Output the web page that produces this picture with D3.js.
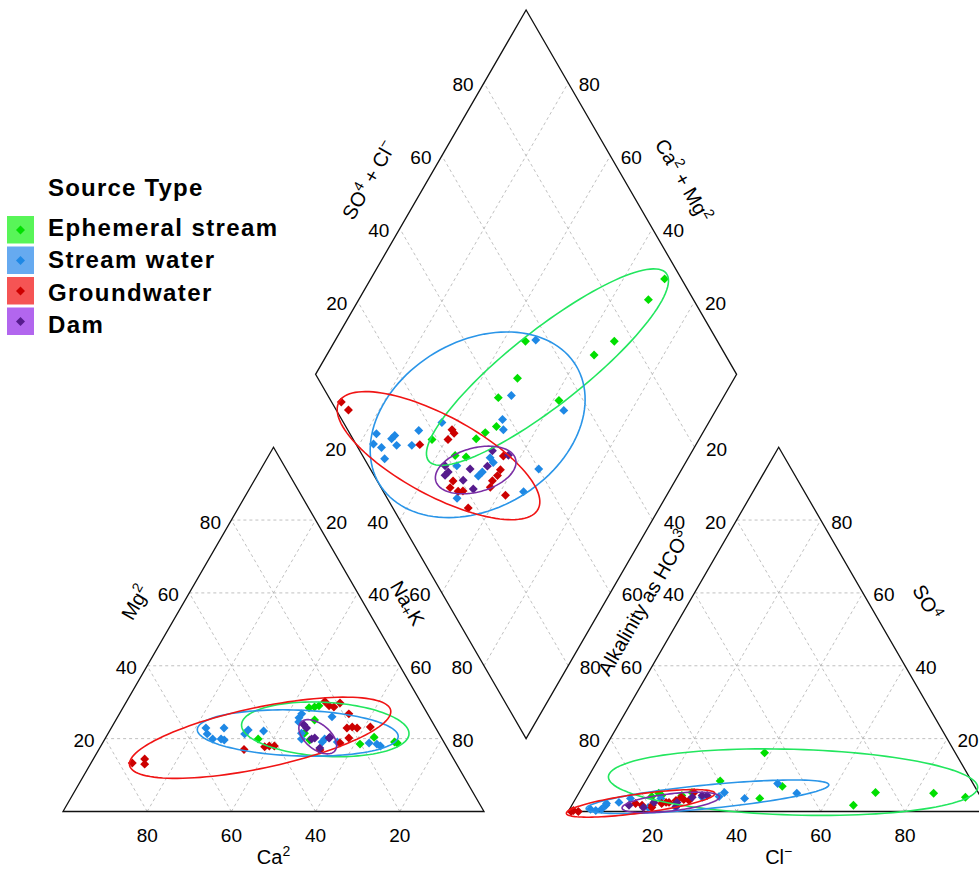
<!DOCTYPE html>
<html>
<head>
<meta charset="utf-8">
<script src="https://cdn.jsdelivr.net/npm/d3@7"></script>
<style>
  body { margin: 0; background: #fff; }
  svg { display: block; font-family: "Liberation Sans", Arial, sans-serif; }
</style>
</head>
<body>
<svg id="chart"></svg>
<script>
// ---- data (percent of meq) ----
const sourceTypes = ["Ephemeral stream", "Stream water", "Groundwater", "Dam"];
const tickValues = [20, 40, 60, 80];

// cation triangle: [Ca, Mg]
const cationEphemeral = [[43.7,19.9],[27.3,28.5],[25.9,28.7],[24.7,29.0],[27.7,25.1],[31.9,21.5],[31.6,19.6],[20.2,18.5],[15.9,20.4],[11.7,19.1],[11.2,18.8]];
const cationStream = [[54.6,22.9],[55.1,21.3],[54.5,19.9],[50.3,22.9],[51.9,19.6],[52.5,19.9],[44.8,22.4],[46.2,21.3],[41.3,22.1],[31.1,25.7],[29.9,26.8],[31.7,24.6],[32.6,21.5],[33.4,19.9],[27.9,19.9],[28.9,19.1],[23.1,26.0],[25.3,19.1],[17.9,18.8],[16.2,18.5],[15.6,18.0]];
const cationGround = [[76.9,13.3],[73.4,14.4],[74.1,13.0],[48.5,17.0],[43.2,17.8],[42.0,18.0],[40.8,18.0],[22.7,30.2],[22.3,29.0],[21.3,28.7],[19.3,29.8],[18.7,26.8],[21.1,22.9],[19.7,23.2],[18.7,22.9],[22.0,20.2],[15.4,23.2],[24.8,18.8],[30.5,16.9]];
const cationDam = [[30.9,23.8],[30.7,22.9],[30.1,20.2],[26.7,20.2],[26.4,20.4],[30.3,17.4],[31.0,19.9]];

// anion triangle: [Cl, SO4]
const anionEphemeral = [[38.6,16.1],[31.9,8.4],[47.4,6.9],[43.7,3.6],[66.9,1.7],[70.4,5.2],[84.3,5.0],[92.4,3.9],[26.8,5.2],[24.8,4.4],[20.0,4.4],[17.8,4.1],[19.0,5.0]];
const anionStream = [[45.9,7.7],[51.8,5.0],[40.1,3.6],[34.5,5.2],[33.8,4.1],[29.9,3.9],[25.0,1.1],[18.5,1.1],[10.8,2.5],[13.0,3.6],[8.1,1.7],[8.0,2.2],[7.6,0.6],[5.0,0.6],[6.4,0.3],[20.2,3.6]];
const anionGround = [[1.1,0.3],[2.4,0.0],[0.7,0.0],[14.9,2.2],[16.7,1.7],[19.1,1.7],[21.1,2.2],[22.7,2.5],[24.1,3.0],[25.8,3.3],[27.2,3.0],[24.9,3.9],[27.3,5.2],[19.3,1.1],[22.0,2.5]];
const anionDam = [[13.6,1.7],[19.1,2.5],[27.5,3.9],[29.6,4.4],[24.9,1.4],[17.3,1.1],[30.8,4.4],[24.6,2.5]];

// diamond: [Ca + Mg, SO4 + Cl]
const diamondEphemeral = [[30.2,96.0],[31.2,89.3],[33.6,75.5],[36.5,68.8],[54.7,54.4],[51.5,47.4],[53.4,40.2],[38.6,54.2],[49.9,35.8],[51.7,32.3],[53.0,29.3],[63.4,18.7],[55.7,22.0],[52.9,24.4]];
const diamondStream = [[52.4,57.0],[50.6,43.6],[36.1,54.0],[49.4,38.2],[47.8,37.0],[63.4,23.4],[77.4,6.3],[76.7,4.2],[74.3,5.6],[73.1,9.2],[72.8,10.4],[71.0,9.5],[72.0,4.8],[67.4,13.1],[67.8,16.8],[53.9,21.0],[47.0,26.2],[47.1,30.0],[45.7,30.1],[34.0,40.0],[34.5,33.3],[49.4,16.6],[47.4,24.7]];
const diamondGround = [[90.1,2.3],[87.3,2.9],[60.0,24.8],[59.0,24.8],[59.6,22.5],[65.6,15.1],[44.2,33.4],[43.0,30.8],[42.9,29.3],[43.4,27.4],[52.7,18.0],[52.5,16.4],[50.1,17.8],[49.0,19.0],[43.0,26.0],[38.3,28.5],[45.4,17.9]];
const diamondDam = [[47.5,31.5],[43.1,34.7],[55.1,18.1],[55.4,16.9],[50.3,23.7],[46.6,28.2],[50.4,20.5],[46.8,21.7],[56.7,18.2]];

const cationData = [cationEphemeral, cationStream, cationGround, cationDam];
const anionData = [anionEphemeral, anionStream, anionGround, anionDam];
const diamondData = [diamondEphemeral, diamondStream, diamondGround, diamondDam];

// colours
const pointColor = d3.scaleOrdinal(sourceTypes, ["#00df00", "#1e88e5", "#cc0000", "#561b8d"]);
const ellipseColor = d3.scaleOrdinal(sourceTypes, ["#22e65e", "#2a95e8", "#f01414", "#7a2ea6"]);
const keyColor = d3.scaleOrdinal(sourceTypes, ["#58f558", "#66aaf0", "#f55454", "#b266ee"]);

const width = 979, height = 870;
const svg = d3.select("#chart").attr("width", width).attr("height", height);

// piper coordinate space: cation triangle 0..100, anion 120..220
const x = d3.scaleLinear().domain([0, 220]).range([63, 989.2]);
const y = d3.scaleLinear().domain([0, 190.53]).range([811.5, 10]);
const H = 0.86603;

const cationXY = (ca, mg) => [100 * (1 - ca / 100 - mg / 200), mg * H];
const anionXY = (cl, so4) => [120 + cl + so4 / 2, so4 * H];
const diamondXY = (cm, sc) => [110 + 0.5 * (sc - cm), 17.3206 + H * (cm + sc)];
const px = p => [x(p[0]), y(p[1])];

// grid lines
const grid = [];
tickValues.forEach(v => {
  grid.push([cationXY(100 - v, v), cationXY(0, v)]);
  grid.push([cationXY(v, 0), cationXY(v, 100 - v)]);
  grid.push([cationXY(100 - v, 0), cationXY(0, 100 - v)]);
  grid.push([anionXY(0, v), anionXY(100 - v, v)]);
  grid.push([anionXY(v, 0), anionXY(v, 100 - v)]);
  grid.push([anionXY(100 - v, 0), anionXY(0, 100 - v)]);
  grid.push([diamondXY(v, 0), diamondXY(v, 100)]);
  grid.push([diamondXY(0, v), diamondXY(100, v)]);
});
svg.append("g").selectAll("line").data(grid).join("line")
  .attr("x1", d => x(d[0][0])).attr("y1", d => y(d[0][1]))
  .attr("x2", d => x(d[1][0])).attr("y2", d => y(d[1][1]))
  .attr("stroke", "#b0b0b0").attr("stroke-width", 0.8).attr("stroke-dasharray", "3,3");

// outlines
const outlines = [
  [cationXY(100, 0), cationXY(0, 0), cationXY(0, 100)],
  [anionXY(0, 0), anionXY(100, 0), anionXY(0, 100)],
  [diamondXY(0, 0), diamondXY(0, 100), diamondXY(100, 100), diamondXY(100, 0)]
];
svg.append("g").selectAll("path").data(outlines).join("path")
  .attr("d", d => d3.line().x(p => x(p[0])).y(p => y(p[1]))(d) + "Z")
  .attr("fill", "none").attr("stroke", "#111").attr("stroke-width", 1.3);

// tick labels
const sideTicks = [
  { pos: v => cationXY(100 - v, v), dx: -21 },   // Mg
  { pos: v => cationXY(0, 100 - v), dx: 21 },    // Na + K
  { pos: v => anionXY(0, 100 - v), dx: -21 },    // HCO3
  { pos: v => anionXY(100 - v, v), dx: 21 },     // SO4
  { pos: v => diamondXY(100, v), dx: -21 },      // SO4 + Cl
  { pos: v => diamondXY(v, 100), dx: 21 },       // Ca + Mg
  { pos: v => diamondXY(100 - v, 0), dx: -22 },  // Na + K
  { pos: v => diamondXY(0, 100 - v), dx: 22 }    // HCO3
];
const bottomTicks = [
  { pos: v => cationXY(v, 0) },  // Ca
  { pos: v => anionXY(v, 0) }    // Cl
];
const tickG = svg.append("g").attr("font-size", 19).attr("fill", "#000").attr("text-anchor", "middle");
sideTicks.forEach(t => {
  tickG.append("g").selectAll("text").data(tickValues).join("text")
    .attr("x", v => x(t.pos(v)[0]) + t.dx)
    .attr("y", v => y(t.pos(v)[1]))
    .attr("dy", "0.45em")
    .text(v => v);
});
bottomTicks.forEach(t => {
  tickG.append("g").selectAll("text").data(tickValues).join("text")
    .attr("x", v => x(t.pos(v)[0]))
    .attr("y", v => y(t.pos(v)[1]) + 30)
    .text(v => v);
});

// axis titles
function richText(sel, parts) {
  parts.forEach(p => {
    const ts = sel.append("tspan").text(p[0]);
    if (p[1] === "sup") ts.attr("baseline-shift", "super").attr("font-size", 14);
    if (p[1] === "sub") ts.attr("baseline-shift", "-3").attr("font-size", 15);
  });
}
const titles = [
  { from: cationXY(100, 0), to: cationXY(0, 100), frac: 0.516, off: 42, rot: -60, parts: [["Mg"], ["2", "sup"]] },
  { from: cationXY(0, 0), to: cationXY(0, 100), frac: 0.52, off: 38, rot: 60, parts: [["Na"], ["+", "sub"], ["K"]] },
  { from: anionXY(0, 0), to: anionXY(0, 100), frac: 0.519, off: 39, rot: -60, parts: [["Alkalinity as HCO"], ["3", "sup"]] },
  { from: anionXY(100, 0), to: anionXY(0, 100), frac: 0.505, off: 51, rot: 60, parts: [["SO"], ["4", "sup"]] },
  { from: diamondXY(100, 0), to: diamondXY(100, 100), frac: 0.463, off: 51, rot: -60, parts: [["SO"], ["4", "sup"], [" + Cl"], ["\u2212", "sup"]] },
  { from: diamondXY(0, 100), to: diamondXY(100, 100), frac: 0.463, off: 51, rot: 60, parts: [["Ca"], ["2", "sup"], [" + Mg"], ["2", "sup"]] }
];
const titleG = svg.append("g").attr("font-size", 20).attr("text-anchor", "middle");
titles.forEach(t => {
  const a = px(t.from), b = px(t.to);
  const r = t.rot * Math.PI / 180;
  const cx = a[0] + (b[0] - a[0]) * t.frac + t.off * Math.sin(r);
  const cy = a[1] + (b[1] - a[1]) * t.frac - t.off * Math.cos(r);
  const tx = titleG.append("text")
    .attr("transform", `translate(${cx},${cy}) rotate(${t.rot})`)
    .attr("dy", "0.35em");
  richText(tx, t.parts);
});
const caTitle = titleG.append("text").attr("x", x(50)).attr("y", y(0) + 52);
richText(caTitle, [["Ca"], ["2", "sup"]]);
const clTitle = titleG.append("text").attr("x", x(170)).attr("y", y(0) + 52);
richText(clTitle, [["Cl"], ["\u2212", "sup"]]);

// points
const marker = d3.symbol(d3.symbolSquare, 40);
const panels = [
  { data: cationData, f: d => cationXY(d[0], d[1]) },
  { data: anionData, f: d => anionXY(d[0], d[1]) },
  { data: diamondData, f: d => diamondXY(d[0], d[1]) }
];
const pointG = svg.append("g");
panels.forEach(panel => {
  panel.data.forEach((rows, i) => {
    pointG.append("g").selectAll("path").data(rows).join("path")
      .attr("d", marker)
      .attr("transform", d => { const p = px(panel.f(d)); return `translate(${p[0]},${p[1]}) rotate(45)`; })
      .attr("fill", pointColor(sourceTypes[i]));
  });
});

// minimum enclosing ellipse around each group (Khachiyan), slightly expanded
function inv3(m) {
  const [a, b, c, d, e, f, g, h, k] = m;
  const A = e * k - f * h, B = -(d * k - f * g), C = d * h - e * g;
  const det = a * A + b * B + c * C;
  return [A, -(b * k - c * h), b * f - c * e,
          B, a * k - c * g, -(a * f - c * d),
          C, -(a * h - b * g), a * e - b * d].map(v => v / det);
}
function enclosingEllipse(pts, expand) {
  const n = pts.length;
  let u = pts.map(() => 1 / n);
  for (let it = 0; it < 2000; it++) {
    const X = [0, 0, 0, 0, 0, 0, 0, 0, 0];
    pts.forEach((p, i) => {
      const q = [p[0], p[1], 1];
      for (let r = 0; r < 3; r++) for (let c = 0; c < 3; c++) X[r * 3 + c] += u[i] * q[r] * q[c];
    });
    const Xi = inv3(X);
    const M = pts.map(p => {
      const q = [p[0], p[1], 1];
      let s = 0;
      for (let r = 0; r < 3; r++) for (let c = 0; c < 3; c++) s += q[r] * Xi[r * 3 + c] * q[c];
      return s;
    });
    const j = d3.maxIndex(M);
    const step = (M[j] - 3) / (3 * (M[j] - 1));
    const nu = u.map(v => v * (1 - step));
    nu[j] += step;
    const err = Math.sqrt(d3.sum(nu, (v, i) => (v - u[i]) ** 2));
    u = nu;
    if (err < 0.01) break;
  }
  const c = [d3.sum(pts, (p, i) => u[i] * p[0]), d3.sum(pts, (p, i) => u[i] * p[1])];
  let sxx = 0, sxy = 0, syy = 0;
  pts.forEach((p, i) => {
    sxx += u[i] * (p[0] - c[0]) ** 2; sxy += u[i] * (p[0] - c[0]) * (p[1] - c[1]); syy += u[i] * (p[1] - c[1]) ** 2;
  });
  const tr = sxx + syy, det = sxx * syy - sxy * sxy;
  const disc = Math.sqrt(Math.max(tr * tr / 4 - det, 0));
  const l1 = tr / 2 + disc, l2 = Math.max(tr / 2 - disc, 0);
  const ang = 0.5 * Math.atan2(2 * sxy, sxx - syy);
  const a1 = Math.sqrt(2 * l1) + expand, a2 = Math.sqrt(2 * l2) + expand;
  return d3.range(0, 121).map(k => {
    const t = k / 120 * 2 * Math.PI;
    const ex = a1 * Math.cos(t), ey = a2 * Math.sin(t);
    return [c[0] + ex * Math.cos(ang) - ey * Math.sin(ang), c[1] + ex * Math.sin(ang) + ey * Math.cos(ang)];
  });
}
const ellipseG = svg.append("g");
panels.forEach(panel => {
  panel.data.forEach((rows, i) => {
    const pts = rows.map(d => px(panel.f(d)));
    ellipseG.append("path")
      .datum(enclosingEllipse(pts, 4))
      .attr("d", d3.line().curve(d3.curveLinearClosed))
      .attr("fill", "none")
      .attr("stroke", ellipseColor(sourceTypes[i]))
      .attr("stroke-width", 1.6);
  });
});

// legend
const legend = svg.append("g").attr("font-weight", "bold").attr("font-size", 24);
legend.append("text").attr("x", 48).attr("y", 196).attr("letter-spacing", 1.2).text("Source Type");
const items = legend.selectAll("g.item").data(sourceTypes).join("g").attr("class", "item");
items.append("rect")
  .attr("x", 7).attr("y", (d, i) => 216 + i * 30.5)
  .attr("width", 27).attr("height", 27.5)
  .attr("fill", d => keyColor(d));
items.append("path")
  .attr("d", marker)
  .attr("transform", (d, i) => `translate(20.5,${230 + i * 30.5}) rotate(45)`)
  .attr("fill", d => pointColor(d));
items.append("text")
  .attr("x", 48).attr("y", (d, i) => 236 + i * 32.3)
  .attr("letter-spacing", 1.4)
  .text(d => d);
</script>
</body>
</html>
